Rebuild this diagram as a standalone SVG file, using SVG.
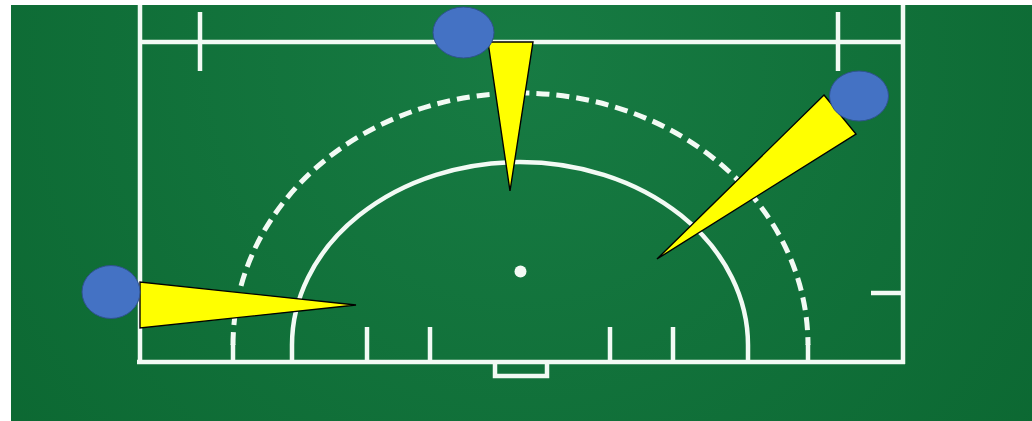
<svg xmlns="http://www.w3.org/2000/svg" width="1032" height="421" viewBox="0 0 1032 421">
  <defs>
    <radialGradient id="pitch" cx="520" cy="60" r="650" gradientUnits="userSpaceOnUse">
      <stop offset="0" stop-color="#177b43"/>
      <stop offset="1" stop-color="#0c6832"/>
    </radialGradient>
  </defs>
  <style>
    .line{fill:none;stroke:#f2faf4;stroke-width:4.5}
    .dash{fill:none;stroke:#f2faf4;stroke-width:5;stroke-dasharray:13 7}
    .cone{fill:#ffff00;stroke:#000000;stroke-width:1.4;stroke-linejoin:miter}
    .player{fill:#4472c4;stroke:#2f528f;stroke-width:1}
  </style>
  <rect x="0" y="0" width="1032" height="421" fill="#ffffff"/>
  <rect x="11" y="5" width="1021" height="416" fill="url(#pitch)"/>
  <g id="field">
    <line class="line" x1="140" y1="5" x2="140" y2="364"/>
    <line class="line" x1="903" y1="5" x2="903" y2="364"/>
    <line class="line" x1="140" y1="42" x2="903" y2="42"/>
    <line class="line" x1="137" y1="362" x2="905" y2="362"/>
    <line class="line" x1="200" y1="12" x2="200" y2="71"/>
    <line class="line" x1="838" y1="12" x2="838" y2="71"/>
    <line class="line" x1="871" y1="293" x2="903" y2="293"/>
    <path class="line" d="M495 362 V376 H547 V362"/>
    <line class="line" x1="367" y1="327" x2="367" y2="362"/>
    <line class="line" x1="430" y1="327" x2="430" y2="362"/>
    <line class="line" x1="610" y1="327" x2="610" y2="362"/>
    <line class="line" x1="673" y1="327" x2="673" y2="362"/>
    <path class="line" d="M292 362 V345 A228 183 0 0 1 748 345 V362"/>
    <path class="dash" d="M233 345 A287.5 252 0 0 1 808 345"/>
    <line class="line" x1="233" y1="344" x2="233" y2="362"/>
    <line class="line" x1="808" y1="344" x2="808" y2="362"/>
    <circle cx="520.5" cy="271.5" r="6" fill="#f2faf4"/>
  </g>
  <g id="cones">
    <polygon id="cone-top" class="cone" points="488,42 533,42 510,191"/>
    <polygon id="cone-right" class="cone" points="824,95 856,134 657,259"/>
    <polygon id="cone-left" class="cone" points="140,282 140,328 356,305"/>
  </g>
  <g id="player-top"><ellipse class="player" cx="463.5" cy="32.5" rx="30.5" ry="25.5"/></g>
  <g id="player-right"><ellipse class="player" cx="859" cy="96" rx="29.5" ry="25"/></g>
  <g id="player-left"><ellipse class="player" cx="111" cy="292" rx="29" ry="26.5"/></g>
</svg>
